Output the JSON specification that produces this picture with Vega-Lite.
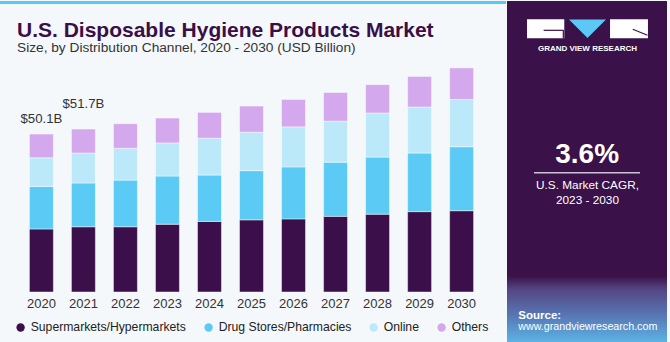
{
  "$schema": "https://vega.github.io/schema/vega-lite/v6.json",
  "background": "#f4f8fb",
  "padding": {"left": 0, "top": 0, "right": 4, "bottom": 0},
  "spacing": 0,
  "resolve": {"legend": {"color": "independent"}},
  "config": {
    "view": {"stroke": null},
    "font": "Liberation Sans"
  },
  "hconcat": [
    {
      "width": 503,
      "height": 231,
      "title": {
        "text": "U.S. Disposable Hygiene Products Market",
        "subtitle": "Size, by Distribution Channel, 2020 - 2030 (USD Billion)",
        "anchor": "start",
        "frame": "group",
        "dx": 17,
        "fontSize": 21,
        "fontWeight": "bold",
        "color": "#3a0f48",
        "subtitleFontSize": 13.7,
        "subtitleColor": "#333333",
        "subtitlePadding": 0,
        "offset": -54
      },
      "data": {
        "values": [
          {"year": "2020", "channel": "Supermarkets/Hypermarkets", "value": 20.0},
          {"year": "2020", "channel": "Drug Stores/Pharmacies", "value": 13.5},
          {"year": "2020", "channel": "Online", "value": 9.1},
          {"year": "2020", "channel": "Others", "value": 7.5},
          {"year": "2021", "channel": "Supermarkets/Hypermarkets", "value": 20.7},
          {"year": "2021", "channel": "Drug Stores/Pharmacies", "value": 13.9},
          {"year": "2021", "channel": "Online", "value": 9.5},
          {"year": "2021", "channel": "Others", "value": 7.6},
          {"year": "2022", "channel": "Supermarkets/Hypermarkets", "value": 20.7},
          {"year": "2022", "channel": "Drug Stores/Pharmacies", "value": 14.8},
          {"year": "2022", "channel": "Online", "value": 10.1},
          {"year": "2022", "channel": "Others", "value": 7.8},
          {"year": "2023", "channel": "Supermarkets/Hypermarkets", "value": 21.5},
          {"year": "2023", "channel": "Drug Stores/Pharmacies", "value": 15.3},
          {"year": "2023", "channel": "Online", "value": 10.5},
          {"year": "2023", "channel": "Others", "value": 7.9},
          {"year": "2024", "channel": "Supermarkets/Hypermarkets", "value": 22.4},
          {"year": "2024", "channel": "Drug Stores/Pharmacies", "value": 14.7},
          {"year": "2024", "channel": "Online", "value": 11.7},
          {"year": "2024", "channel": "Others", "value": 8.2},
          {"year": "2025", "channel": "Supermarkets/Hypermarkets", "value": 22.9},
          {"year": "2025", "channel": "Drug Stores/Pharmacies", "value": 15.6},
          {"year": "2025", "channel": "Online", "value": 12.2},
          {"year": "2025", "channel": "Others", "value": 8.3},
          {"year": "2026", "channel": "Supermarkets/Hypermarkets", "value": 23.2},
          {"year": "2026", "channel": "Drug Stores/Pharmacies", "value": 16.5},
          {"year": "2026", "channel": "Online", "value": 12.7},
          {"year": "2026", "channel": "Others", "value": 8.7},
          {"year": "2027", "channel": "Supermarkets/Hypermarkets", "value": 24.0},
          {"year": "2027", "channel": "Drug Stores/Pharmacies", "value": 17.2},
          {"year": "2027", "channel": "Online", "value": 13.0},
          {"year": "2027", "channel": "Others", "value": 9.1},
          {"year": "2028", "channel": "Supermarkets/Hypermarkets", "value": 24.7},
          {"year": "2028", "channel": "Drug Stores/Pharmacies", "value": 18.1},
          {"year": "2028", "channel": "Online", "value": 14.0},
          {"year": "2028", "channel": "Others", "value": 9.0},
          {"year": "2029", "channel": "Supermarkets/Hypermarkets", "value": 25.5},
          {"year": "2029", "channel": "Drug Stores/Pharmacies", "value": 18.6},
          {"year": "2029", "channel": "Online", "value": 14.6},
          {"year": "2029", "channel": "Others", "value": 9.7},
          {"year": "2030", "channel": "Supermarkets/Hypermarkets", "value": 25.8},
          {"year": "2030", "channel": "Drug Stores/Pharmacies", "value": 20.3},
          {"year": "2030", "channel": "Online", "value": 15.0},
          {"year": "2030", "channel": "Others", "value": 10.0}
        ]
      },
      "resolve": {"scale": {"x": "independent"}},
      "layer": [
        {
          "layer": [
            {
              "transform": [
                {"calculate": "indexof(['Supermarkets/Hypermarkets', 'Drug Stores/Pharmacies', 'Online', 'Others'], datum.channel)", "as": "rank"}
              ],
              "mark": {"type": "bar", "stroke": "#ffffff", "strokeWidth": 1, "strokeOpacity": 0.45},
              "encoding": {
                "x": {
                  "field": "year", "type": "ordinal",
                  "scale": {"paddingInner": 0.43, "paddingOuter": 0.7},
                  "axis": {"title": null, "labelAngle": 0, "domain": false, "ticks": false, "labelPadding": 5, "labelFontSize": 13, "labelColor": "#333333"}
                },
                "y": {
                  "field": "value", "type": "quantitative", "stack": "zero",
                  "scale": {"domain": [0, 73.3], "nice": false}, "axis": null
                },
                "order": {"field": "rank", "type": "quantitative"},
                "color": {
                  "field": "channel", "type": "nominal",
                  "sort": ["Supermarkets/Hypermarkets", "Drug Stores/Pharmacies", "Online", "Others"],
                  "scale": {
                    "domain": ["Supermarkets/Hypermarkets", "Drug Stores/Pharmacies", "Online", "Others"],
                    "range": ["#3a0f4a", "#5bcbf6", "#bce9f9", "#d4a8ec"]
                  },
                  "legend": {
                    "title": null, "orient": "none", "legendX": 14.5, "legendY": 260, "direction": "horizontal",
                    "symbolType": "circle", "symbolSize": 70, "symbolStrokeWidth": 0,
                    "labelFontSize": 12.2, "labelColor": "#222222", "columnPadding": 16,
                    "padding": 0
                  }
                }
              }
            },
            {
              "data": {
                "values": [
                  {"year": "2020", "total": 50.1, "label": "$50.1B"},
                  {"year": "2021", "total": 51.7, "label": "$51.7B"}
                ]
              },
              "mark": {"type": "text", "fontSize": 13.2, "color": "#333333", "baseline": "bottom", "dy": {"expr": "datum.year == '2021' ? -18 : -8"}},
              "encoding": {
                "x": {"field": "year", "type": "ordinal"},
                "y": {"field": "total", "type": "quantitative"},
                "text": {"field": "label"}
              }
            }
          ]
        },
        {
          "data": {"values": [{}]},
          "mark": {"type": "rect", "fill": "#5bc8f5"},
          "encoding": {
            "x": {"datum": 0, "type": "quantitative", "scale": {"domain": [0, 100], "nice": false, "zero": false}, "axis": null},
            "x2": {"datum": 100.6},
            "y": {"datum": 92.339, "type": "quantitative"},
            "y2": {"datum": 91.387}
          }
        }
      ]
    },
    {
      "width": 160,
      "height": 282,
      "data": {"values": [{}]},
      "layer": [
        {
          "mark": {"type": "rect", "fill": "#3a1149"},
          "encoding": {
            "x": {"datum": 0, "type": "quantitative", "scale": {"domain": [0, 100], "nice": false, "zero": false}, "axis": null},
            "x2": {"datum": 100},
            "y": {"datum": 0, "type": "quantitative", "scale": {"domain": [17.544, 100], "nice": false, "zero": false, "reverse": true}, "axis": null},
            "y2": {"datum": 100}
          }
        },
        {
          "mark": {"type": "rect", "fill": {"gradient": "linear", "x1": 0, "y1": 0, "x2": 0, "y2": 1, "stops": [{"offset": 0, "color": "#3a1149"}, {"offset": 0.2, "color": "#534683"}, {"offset": 0.6, "color": "#5878b6"}, {"offset": 1, "color": "#5cb6e6"}]}},
          "encoding": {
            "x": {"datum": 0, "type": "quantitative"},
            "x2": {"datum": 100},
            "y": {"datum": 80.4, "type": "quantitative"},
            "y2": {"datum": 100}
          }
        },
        {
          "mark": {"type": "rect", "fill": "#ffffff"},
          "encoding": {
            "x": {"datum": 12.5, "type": "quantitative"},
            "x2": {"datum": 35.8},
            "y": {"datum": 5.35, "type": "quantitative"},
            "y2": {"datum": 10.91}
          }
        },
        {
          "mark": {"type": "rect", "fill": "#ffffff"},
          "encoding": {
            "x": {"datum": 64.4, "type": "quantitative"},
            "x2": {"datum": 88.1},
            "y": {"datum": 5.35, "type": "quantitative"},
            "y2": {"datum": 10.91}
          }
        },
        {
          "mark": {"type": "rule", "color": "#3a1149", "strokeWidth": 1.2},
          "encoding": {
            "x": {"datum": 22.9, "type": "quantitative"},
            "x2": {"datum": 35.4},
            "y": {"datum": 8.57, "type": "quantitative"},
            "y2": {"datum": 8.57}
          }
        },
        {
          "mark": {"type": "rule", "color": "#3a1149", "strokeWidth": 1.2},
          "encoding": {
            "x": {"datum": 35.2, "type": "quantitative"},
            "x2": {"datum": 35.2},
            "y": {"datum": 8.57, "type": "quantitative"},
            "y2": {"datum": 10.91}
          }
        },
        {
          "mark": {"type": "rule", "color": "#3a1149", "strokeWidth": 1.2},
          "encoding": {
            "x": {"datum": 78.6, "type": "quantitative"},
            "x2": {"datum": 87.8},
            "y": {"datum": 8.27, "type": "quantitative"},
            "y2": {"datum": 10.03}
          }
        },
        {
          "mark": {"type": "point", "shape": "M-1,-0.5L1,-0.5L0,0.5Z", "size": 1369, "filled": true, "color": "#5bc8f5", "opacity": 1, "strokeWidth": 0},
          "encoding": {
            "x": {"datum": 50.3, "type": "quantitative"},
            "y": {"datum": 8.13, "type": "quantitative"}
          }
        },
        {
          "mark": {"type": "text", "text": "GRAND VIEW RESEARCH", "fontSize": 8, "fontWeight": "bold", "letterSpacing": 1.2, "color": "#ffffff", "align": "center", "baseline": "middle"},
          "encoding": {
            "x": {"datum": 50.3, "type": "quantitative"},
            "y": {"datum": 14.12, "type": "quantitative"}
          }
        },
        {
          "mark": {"type": "text", "text": "3.6%", "fontSize": 28, "fontWeight": "bold", "color": "#ffffff", "align": "center", "baseline": "alphabetic"},
          "encoding": {
            "x": {"datum": 50.1, "type": "quantitative"},
            "y": {"datum": 47.46, "type": "quantitative"}
          }
        },
        {
          "mark": {"type": "rule", "color": "#cdc3d6", "strokeWidth": 1.5},
          "encoding": {
            "x": {"datum": 16.9, "type": "quantitative"},
            "x2": {"datum": 83.1},
            "y": {"datum": 50.2, "type": "quantitative"},
            "y2": {"datum": 50.2}
          }
        },
        {
          "mark": {"type": "text", "text": "U.S. Market CAGR,", "fontSize": 11.8, "color": "#ffffff", "align": "center", "baseline": "alphabetic"},
          "encoding": {
            "x": {"datum": 50.3, "type": "quantitative"},
            "y": {"datum": 55.06, "type": "quantitative"}
          }
        },
        {
          "mark": {"type": "text", "text": "2023 - 2030", "fontSize": 11.8, "color": "#ffffff", "align": "center", "baseline": "alphabetic"},
          "encoding": {
            "x": {"datum": 50.3, "type": "quantitative"},
            "y": {"datum": 59.27, "type": "quantitative"}
          }
        },
        {
          "mark": {"type": "text", "text": "Source:", "fontSize": 11.5, "fontWeight": "bold", "color": "#ffffff", "align": "left", "baseline": "alphabetic"},
          "encoding": {
            "x": {"datum": 7.06, "type": "quantitative"},
            "y": {"datum": 92.9, "type": "quantitative"}
          }
        },
        {
          "mark": {"type": "text", "text": "www.grandviewresearch.com", "fontSize": 10.7, "color": "#ffffff", "align": "left", "baseline": "alphabetic"},
          "encoding": {
            "x": {"datum": 7.06, "type": "quantitative"},
            "y": {"datum": 96.29, "type": "quantitative"}
          }
        }
      ]
    }
  ]
}
